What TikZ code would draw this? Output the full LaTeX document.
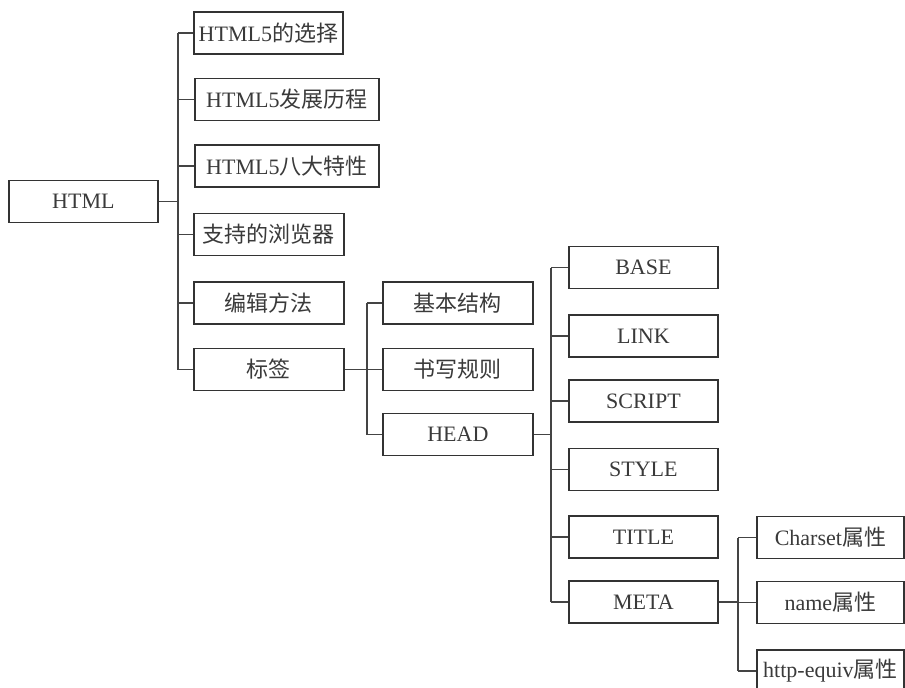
\documentclass[tikz,border=0pt]{standalone}
\usepackage{fontspec}
\setmainfont{Liberation Serif}
\newfontfamily\cjk{Noto Sans CJK SC}
\definecolor{boxc}{HTML}{333333}
\definecolor{linec}{HTML}{444444}
\definecolor{txtc}{HTML}{3A3A3A}
\begin{document}
\begin{tikzpicture}[x=1pt,y=-1pt,
  box/.style={draw=boxc, line width=1.8pt, text=txtc, minimum height=42pt,
    inner sep=0pt, anchor=west, font=\fontsize{22}{24}\selectfont},
  link/.style={draw=linec, line width=1.2pt}]
\useasboundingbox (0,0) rectangle (905,688);
\clip (0,0) rectangle (905,688);
\fill[white] (0,0) rectangle (905,688);

% level 0
\node[box, minimum width=149pt] (html) at (8,201.5) {HTML};

% level 1
\node[box, minimum width=149pt] (a1) at (193,33) {HTML5{\cjk 的选择}};
\node[box, minimum width=184pt] (a2) at (194,99.5) {HTML5{\cjk 发展历程}};
\node[box, minimum width=184pt] (a3) at (194,166) {HTML5{\cjk 八大特性}};
\node[box, minimum width=150pt] (a4) at (193,234.5) {\cjk 支持的浏览器};
\node[box, minimum width=150pt] (a5) at (193,303) {\cjk 编辑方法};
\node[box, minimum width=150pt] (a6) at (193,369.5) {\cjk 标签};

% level 2
\node[box, minimum width=150pt] (b1) at (382,303) {\cjk 基本结构};
\node[box, minimum width=150pt] (b2) at (382,369.5) {\cjk 书写规则};
\node[box, minimum width=150pt] (b3) at (382,434.5) {HEAD};

% level 3
\node[box, minimum width=149pt] (c1) at (568,267.5) {BASE};
\node[box, minimum width=149pt] (c2) at (568,336) {LINK};
\node[box, minimum width=149pt] (c3) at (568,401) {SCRIPT};
\node[box, minimum width=149pt] (c4) at (568,469.5) {STYLE};
\node[box, minimum width=149pt] (c5) at (568,537) {TITLE};
\node[box, minimum width=149pt] (c6) at (568,602) {META};

% level 4
\node[box, minimum width=147pt] (d1) at (756,537.5) {Charset{\cjk 属性}};
\node[box, minimum width=147pt] (d2) at (756,602.5) {name{\cjk 属性}};
\node[box, minimum width=147pt] (d3) at (756,671) {http-equiv{\cjk 属性}};

% trunks
\coordinate (t1) at (178,0);
\coordinate (t2) at (367,0);
\coordinate (t3) at (551,0);
\coordinate (t4) at (738,0);

\draw[link] (html.east) -- (t1 |- html.east);
\draw[link] (t1 |- a1.west) -- (t1 |- a6.west);
\foreach \n in {a1,a2,a3,a4,a5,a6} \draw[link] (t1 |- \n.west) -- (\n.west);

\draw[link] (a6.east) -- (t2 |- a6.east);
\draw[link] (t2 |- b1.west) -- (t2 |- b3.west);
\foreach \n in {b1,b2,b3} \draw[link] (t2 |- \n.west) -- (\n.west);

\draw[link] (b3.east) -- (t3 |- b3.east);
\draw[link] (t3 |- c1.west) -- (t3 |- c6.west);
\foreach \n in {c1,c2,c3,c4,c5,c6} \draw[link] (t3 |- \n.west) -- (\n.west);

\draw[link] (c6.east) -- (t4 |- c6.east);
\draw[link] (t4 |- d1.west) -- (t4 |- d3.west);
\foreach \n in {d1,d2,d3} \draw[link] (t4 |- \n.west) -- (\n.west);
\end{tikzpicture}
\end{document}
